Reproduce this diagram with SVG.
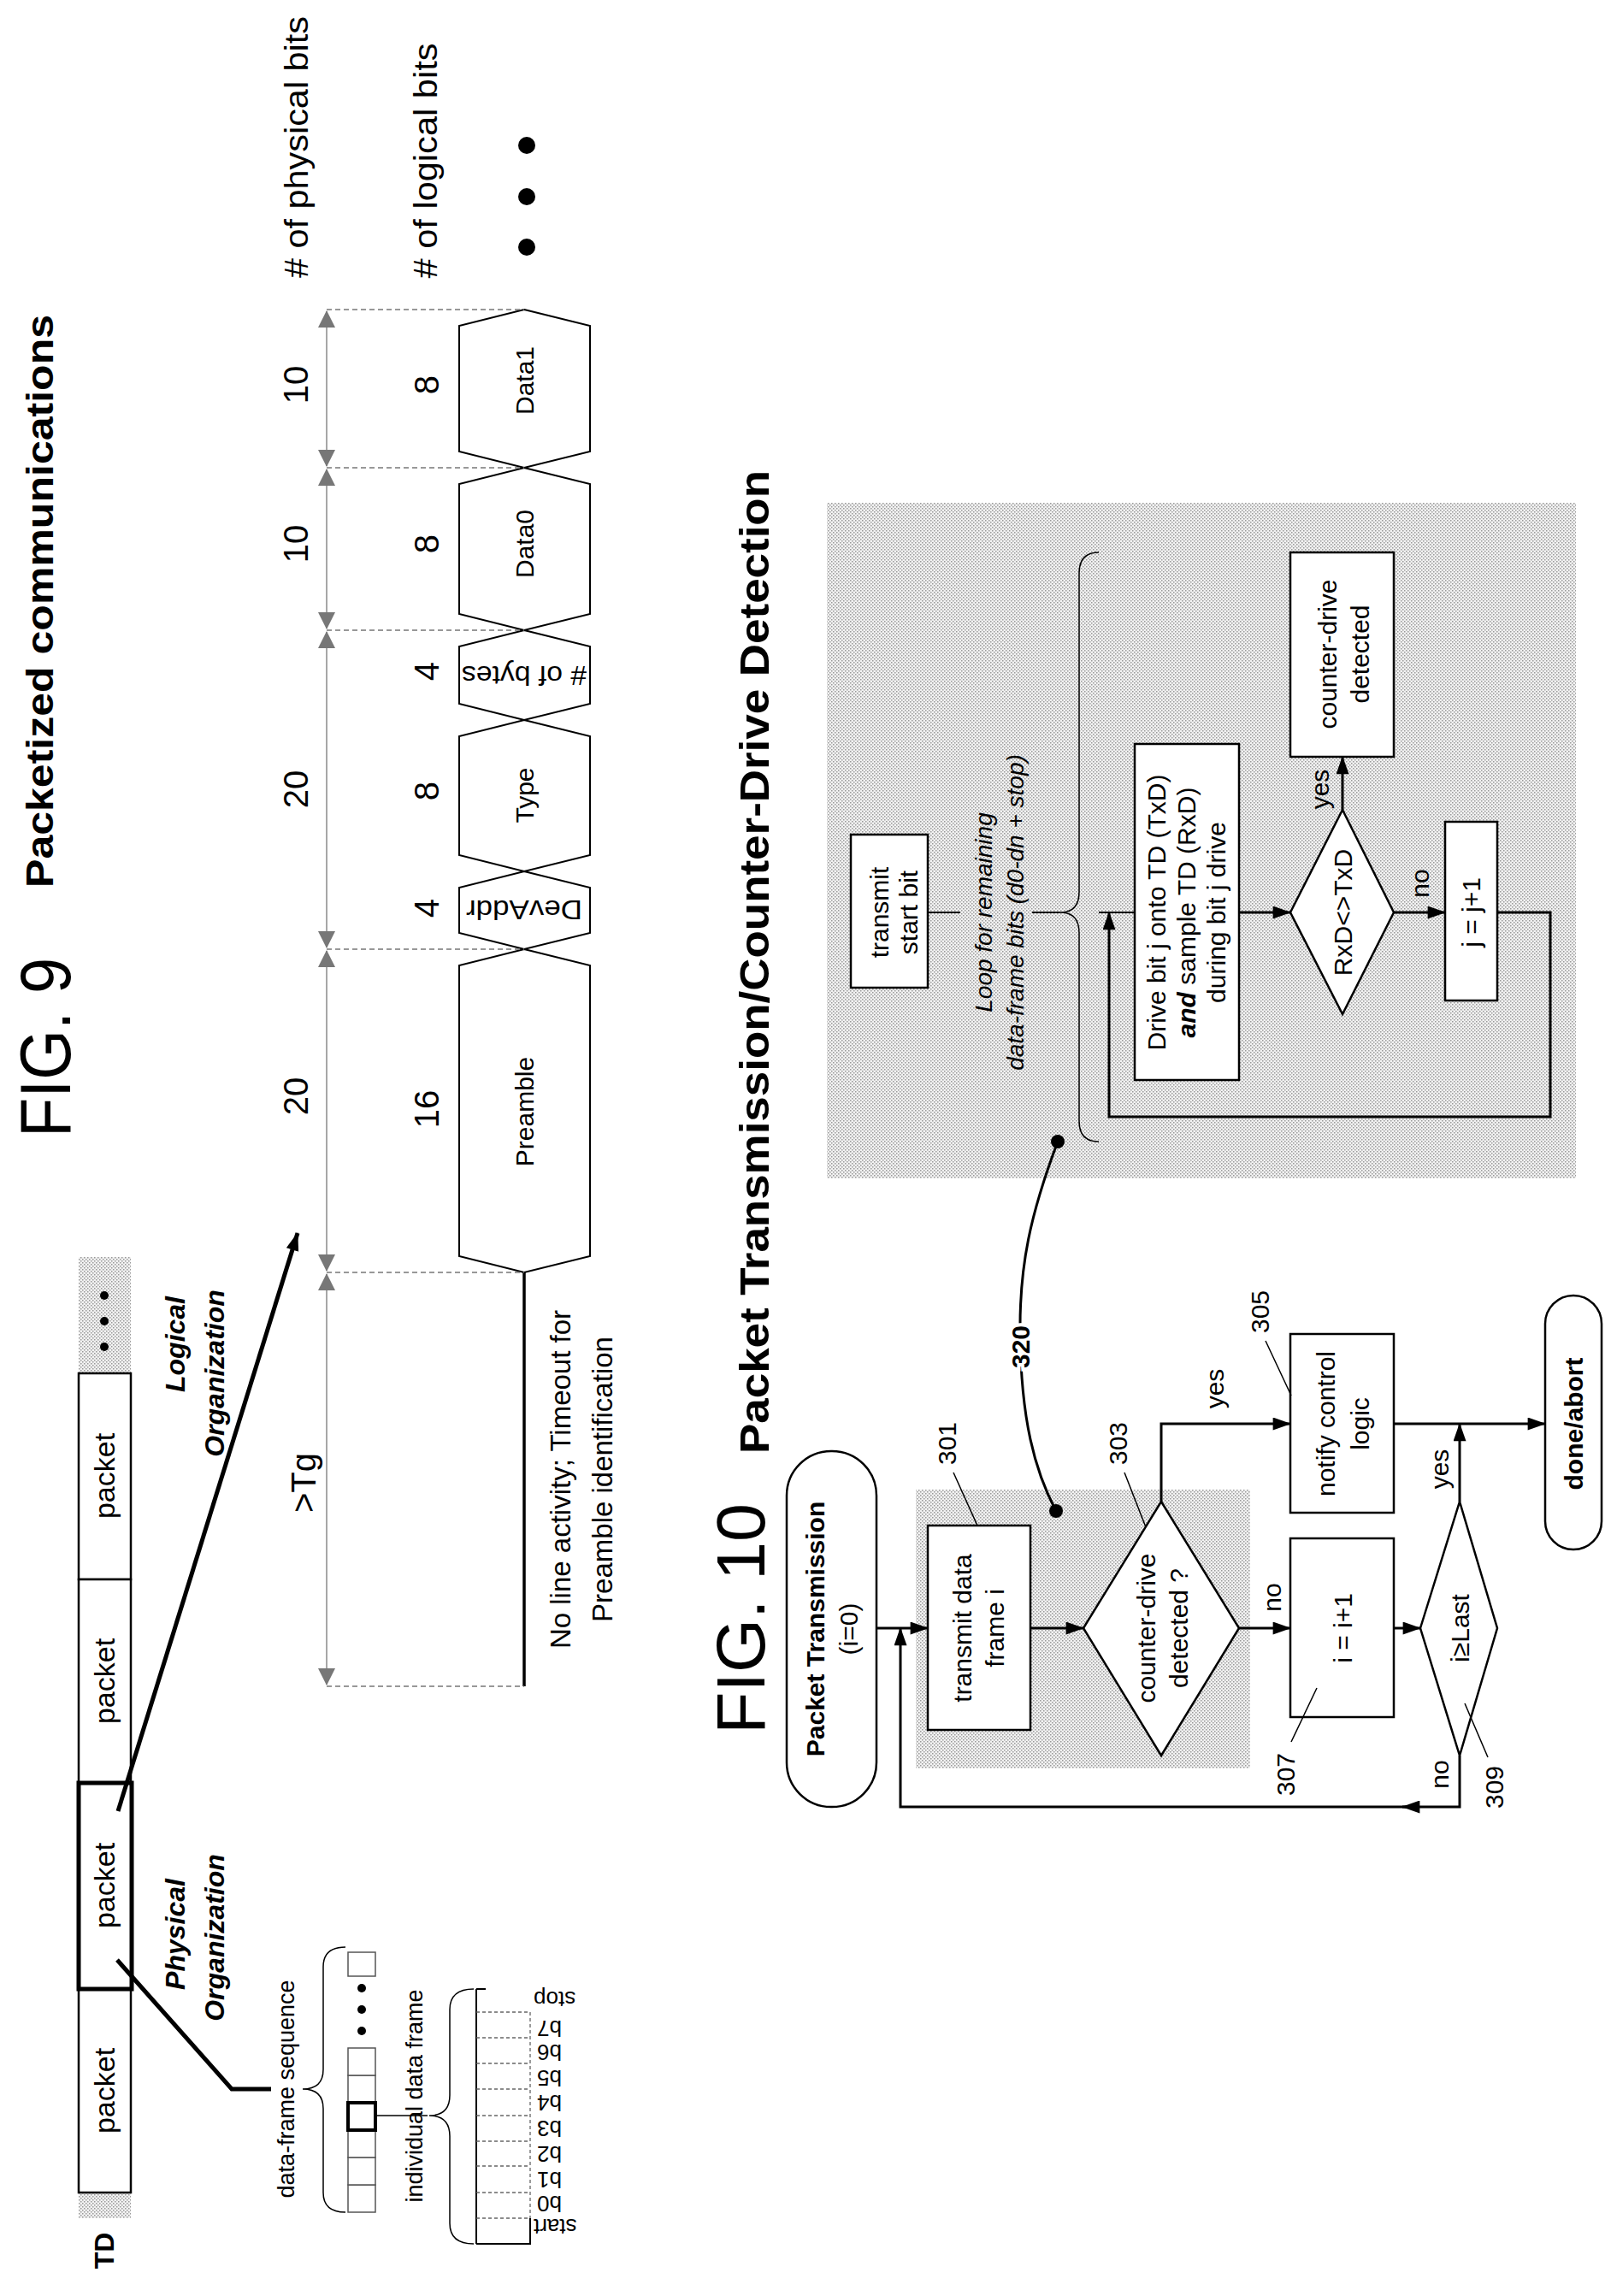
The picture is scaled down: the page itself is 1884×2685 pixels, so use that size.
<svg xmlns="http://www.w3.org/2000/svg" width="1884" height="2685" viewBox="0 0 1884 2685">
<defs>
<marker id="ah" viewBox="0 0 20 14" refX="19" refY="7" markerWidth="22" markerHeight="15" markerUnits="userSpaceOnUse" orient="auto-start-reverse"><path d="M0,0 L20,7 L0,14 Z" fill="#000"/></marker>
<marker id="dh" viewBox="0 0 20 20" refX="19" refY="10" markerWidth="22" markerHeight="20" markerUnits="userSpaceOnUse" orient="auto-start-reverse"><path d="M0,0 L20,10 L0,20 Z" fill="#777"/></marker>
<pattern id="dots" width="4" height="4" patternUnits="userSpaceOnUse"><rect width="4" height="4" fill="#f2f2f2"/><rect width="1.5" height="1.5" fill="#999"/><rect x="2" y="2" width="1.5" height="1.5" fill="#999"/></pattern>
</defs>
<style>
text{font-family:"Liberation Sans",Arial,sans-serif;fill:#000;}
.c{text-anchor:middle;dominant-baseline:central;}
.f{font-size:30px;}
.b{font-weight:bold;}
.bi{font-weight:bold;font-style:italic;font-size:32px;}
.ln{stroke:#000;stroke-width:3;fill:none;}
.th{stroke:#000;stroke-width:1.5;fill:none;}
.box{stroke:#000;stroke-width:2.5;fill:#fff;}
.dash{stroke:#666;stroke-width:1.3;stroke-dasharray:4 3;fill:none;}
.dim{stroke:#777;stroke-width:1.3;stroke-dasharray:6 4;fill:none;}
.hex{stroke:#000;stroke-width:2;fill:#fff;}
</style>
<rect width="1884" height="2685" fill="#fff"/>

<g id="fig9-title">
<text class="c" transform="translate(53,1225) rotate(-90)" font-size="84" textLength="210" lengthAdjust="spacingAndGlyphs">FIG. 9</text>
<text class="c b" transform="translate(46,703) rotate(-90)" font-size="44" textLength="670" lengthAdjust="spacingAndGlyphs">Packetized communications</text>
</g>

<g id="packet-bar">
<rect x="92" y="1470" width="61" height="136" fill="url(#dots)"/>
<circle cx="122" cy="1515" r="5"/><circle cx="122" cy="1545" r="5"/><circle cx="122" cy="1575" r="5"/>
<rect x="92" y="2564" width="61" height="30" fill="url(#dots)"/>
<rect class="box" x="92" y="1606" width="61" height="241" stroke-width="2"/>
<rect class="box" x="92" y="1847" width="61" height="238" stroke-width="2"/>
<rect class="box" x="92" y="2326" width="61" height="238" stroke-width="2"/>
<rect x="92" y="2085" width="62" height="241" fill="#fff" stroke="#000" stroke-width="5"/>
<text class="c" transform="translate(122,1726) rotate(-90)" font-size="34">packet</text>
<text class="c" transform="translate(122,1966) rotate(-90)" font-size="34">packet</text>
<text class="c" transform="translate(122,2205) rotate(-90)" font-size="34">packet</text>
<text class="c" transform="translate(122,2445) rotate(-90)" font-size="34">packet</text>
<text class="c b" transform="translate(122,2632) rotate(-90)" font-size="32">TD</text>
</g>

<g id="org-labels">
<text class="c bi" transform="translate(205,1572) rotate(-90)">Logical</text>
<text class="c bi" transform="translate(251,1606) rotate(-90)">Organization</text>
<text class="c bi" transform="translate(205,2262) rotate(-90)">Physical</text>
<text class="c bi" transform="translate(251,2266) rotate(-90)">Organization</text>
</g>

<g id="frame-seq">
<text class="c" transform="translate(335,2443) rotate(-90)" font-size="27">data-frame sequence</text>
<path class="th" stroke-width="4" d="M404,2277 Q378,2277 378,2300 V2420 Q378,2443 354,2443 Q378,2443 378,2466 V2564 Q378,2587 404,2587"/>
<g stroke="#555" stroke-width="1.5" fill="#fff">
<rect x="407" y="2555" width="32" height="32"/>
<rect x="407" y="2523" width="32" height="32"/>
<rect x="407" y="2491" width="32" height="32"/>
<rect x="407" y="2427" width="32" height="32"/>
<rect x="407" y="2395" width="32" height="32"/>
<rect x="407" y="2283" width="32" height="28"/>
</g>
<rect x="407" y="2459" width="32" height="32" fill="none" stroke="#000" stroke-width="4"/>
<circle cx="423" cy="2375" r="5"/><circle cx="423" cy="2350" r="5"/><circle cx="423" cy="2325" r="5"/>
<line class="th" x1="439" y1="2474" x2="500" y2="2474" stroke-width="1"/>
<text class="c" transform="translate(485,2451) rotate(-90)" font-size="27">individual data frame</text>
<path class="th" stroke-width="1" d="M554,2326 Q526,2326 526,2350 V2450 Q526,2474 502,2474 Q526,2474 526,2498 V2600 Q526,2624 554,2624"/>
</g>

<g id="data-frame">
<line x1="557" y1="2326" x2="557" y2="2624" stroke="#000" stroke-width="2"/>
<path class="dash" d="M557,2353 H620 V2594 M557,2383 H620 M557,2413 H620 M557,2443 H620 M557,2474 H620 M557,2504 H620 M557,2533 H620 M557,2564 H620 M557,2594 H620"/>
<path d="M557,2624 H620 V2594" stroke="#000" stroke-width="2" fill="none"/>
<line x1="557" y1="2326" x2="568" y2="2326" stroke="#000" stroke-width="2"/>
<g font-size="26" text-anchor="end" dominant-baseline="central">
<text transform="translate(624,2604) rotate(180)">start</text>
<text transform="translate(628,2577) rotate(180)">b0</text>
<text transform="translate(628,2549) rotate(180)">b1</text>
<text transform="translate(628,2519) rotate(180)">b2</text>
<text transform="translate(628,2489) rotate(180)">b3</text>
<text transform="translate(628,2459) rotate(180)">b4</text>
<text transform="translate(628,2430) rotate(180)">b5</text>
<text transform="translate(628,2400) rotate(180)">b6</text>
<text transform="translate(628,2372) rotate(180)">b7</text>
<text transform="translate(624,2338) rotate(180)">stop</text>
</g>
</g>

<g id="labels-row">
<text class="c" transform="translate(347,172) rotate(-90)" font-size="38" textLength="306" lengthAdjust="spacingAndGlyphs"># of physical bits</text>
<text class="c" transform="translate(498,188) rotate(-90)" font-size="38" textLength="275" lengthAdjust="spacingAndGlyphs"># of logical bits</text>
<circle cx="616" cy="170" r="10"/><circle cx="616" cy="230" r="10"/><circle cx="616" cy="289" r="10"/>
<g font-size="40">
<text class="c" transform="translate(346,450) rotate(-90)">10</text>
<text class="c" transform="translate(346,636) rotate(-90)">10</text>
<text class="c" transform="translate(346,923) rotate(-90)">20</text>
<text class="c" transform="translate(346,1282) rotate(-90)">20</text>
<text class="c" transform="translate(499,450) rotate(-90)">8</text>
<text class="c" transform="translate(499,636) rotate(-90)">8</text>
<text class="c" transform="translate(499,785) rotate(-90)">4</text>
<text class="c" transform="translate(499,925) rotate(-90)">8</text>
<text class="c" transform="translate(499,1062) rotate(-90)">4</text>
<text class="c" transform="translate(499,1297) rotate(-90)">16</text>
</g>
<text class="c" transform="translate(355,1734) rotate(-90)" font-size="40">&gt;Tg</text>
<text class="c" transform="translate(655,1730) rotate(-90)" font-size="33">No line activity; Timeout for</text>
<text class="c" transform="translate(704,1730) rotate(-90)" font-size="33">Preamble identification</text>
</g>

<g id="hexagons">
<polygon class="hex" points="613,362 690,381 690,528 613,547 537,528 537,381"/>
<polygon class="hex" points="613,547 690,566 690,718 613,737 537,718 537,566"/>
<polygon class="hex" points="613,737 690,756 690,823 613,842 537,823 537,756"/>
<polygon class="hex" points="613,842 690,861 690,1000 613,1019 537,1000 537,861"/>
<polygon class="hex" points="613,1019 690,1038 690,1091 613,1110 537,1091 537,1038"/>
<polygon class="hex" points="613,1110 690,1129 690,1469 613,1488 537,1469 537,1129"/>
<line x1="613" y1="1488" x2="613" y2="1972" stroke="#000" stroke-width="3.5"/>
<g font-size="30">
<text class="c" transform="translate(613,445) rotate(-90)">Data1</text>
<text class="c" transform="translate(613,636) rotate(-90)">Data0</text>
<text class="c" transform="translate(613,790) rotate(180)" font-size="32" textLength="146" lengthAdjust="spacingAndGlyphs"># of bytes</text>
<text class="c" transform="translate(613,930) rotate(-90)">Type</text>
<text class="c" transform="translate(613,1064) rotate(180)" font-size="32" textLength="136" lengthAdjust="spacingAndGlyphs">DevAddr</text>
<text class="c" transform="translate(613,1300) rotate(-90)">Preamble</text>
</g>
</g>

<g id="fig9-connectors">
<path class="dim" d="M382,362 H613 M382,547 H613 M382,737 H613 M382,1110 H613 M382,1488 H613 M382,1972 H613"/>
<g stroke="#777" stroke-width="1.3" marker-start="url(#dh)" marker-end="url(#dh)">
<line x1="382" y1="364" x2="382" y2="545"/>
<line x1="382" y1="549" x2="382" y2="735"/>
<line x1="382" y1="739" x2="382" y2="1108"/>
<line x1="382" y1="1112" x2="382" y2="1486"/>
<line x1="382" y1="1490" x2="382" y2="1970"/>
</g>
<line x1="138" y1="2118" x2="348" y2="1442" stroke="#000" stroke-width="5" marker-end="url(#ah)"/>
<polyline points="137,2292 271,2443 317,2443" fill="none" stroke="#000" stroke-width="5"/>
</g>

<g id="fig10-title">
<text class="c" transform="translate(866,1893) rotate(-90)" font-size="80" textLength="270" lengthAdjust="spacingAndGlyphs">FIG. 10</text>
<text class="c b" transform="translate(882,1125) rotate(-90)" font-size="48" textLength="1150" lengthAdjust="spacingAndGlyphs">Packet Transmission/Counter-Drive Detection</text>
</g>

<g id="loop-area">
<rect x="967" y="588" width="876" height="790" fill="url(#dots)"/>
</g>
<g id="start-bit">
<rect class="box" x="995" y="976" width="90" height="179"/>
<text class="c f" transform="translate(1028,1067) rotate(-90)">transmit</text>
<text class="c f" transform="translate(1062,1067) rotate(-90)">start bit</text>
</g>
<g id="loop-text">
<text class="c" transform="translate(1150,1067) rotate(-90)" font-size="28" font-style="italic">Loop for remaining</text>
<text class="c" transform="translate(1187,1067) rotate(-90)" font-size="28" font-style="italic">data-frame bits (d0-dn + stop)</text>
<path class="th" d="M1285,646 Q1262,646 1262,670 V1043 Q1262,1067 1240,1067 Q1262,1067 1262,1091 V1311 Q1262,1335 1285,1335"/>
</g>
<g id="drive">
<rect class="box" x="1327" y="870" width="122" height="393"/>
<text class="c f" transform="translate(1352,1067) rotate(-90)">Drive bit j  onto TD (TxD)</text>
<text class="c f" transform="translate(1387,1067) rotate(-90)"><tspan font-weight="bold" font-style="italic">and</tspan> sample TD (RxD)</text>
<text class="c f" transform="translate(1422,1067) rotate(-90)">during bit j drive</text>
</g>
<g id="rxd">
<polygon class="box" points="1509,1067 1570,947 1630,1067 1570,1186"/>
<text class="c f" transform="translate(1570,1067) rotate(-90)">RxD&lt;&gt;TxD</text>
</g>
<g id="cd-detected">
<rect class="box" x="1509" y="646" width="121" height="239"/>
<text class="c f" transform="translate(1552,765) rotate(-90)">counter-drive</text>
<text class="c f" transform="translate(1590,765) rotate(-90)">detected</text>
</g>
<g id="jinc">
<rect class="box" x="1690" y="961" width="61" height="209"/>
<text class="c f" transform="translate(1720,1067) rotate(-90)">j = j+1</text>
</g>

<g id="t-start">
<rect class="box" x="920" y="1697" width="105" height="416" rx="52"/>
<text class="c b" transform="translate(953,1905) rotate(-90)" font-size="30">Packet Transmission</text>
<text class="c f" transform="translate(992,1905) rotate(-90)">(i=0)</text>
</g>
<g id="inner-area"><rect x="1071" y="1742" width="391" height="326" fill="url(#dots)"/></g>
<g id="n301">
<rect class="box" x="1085" y="1784" width="120" height="239"/>
<text class="c f" transform="translate(1125,1904) rotate(-90)">transmit data</text>
<text class="c f" transform="translate(1163,1904) rotate(-90)">frame i</text>
</g>
<g id="n303">
<polygon class="box" points="1267,1904 1358,1756 1449,1904 1358,2053"/>
<text class="c f" transform="translate(1340,1904) rotate(-90)">counter-drive</text>
<text class="c f" transform="translate(1378,1904) rotate(-90)">detected ?</text>
</g>
<g id="n305">
<rect class="box" x="1509" y="1560" width="121" height="209"/>
<text class="c f" transform="translate(1550,1665) rotate(-90)">notify control</text>
<text class="c f" transform="translate(1590,1665) rotate(-90)">logic</text>
</g>
<g id="n307">
<rect class="box" x="1509" y="1799" width="121" height="209"/>
<text class="c f" transform="translate(1570,1904) rotate(-90)">i = i+1</text>
</g>
<g id="n309">
<polygon class="box" points="1661,1904 1707,1756 1751,1904 1707,2053"/>
<text class="c f" transform="translate(1707,1904) rotate(-90)">i≥Last</text>
</g>
<g id="done">
<rect class="box" x="1807" y="1515" width="66" height="297" rx="33"/>
<text class="c b" transform="translate(1840,1665) rotate(-90)" font-size="30">done/abort</text>
</g>

<g id="ref-labels" font-size="30">
<text class="c" transform="translate(1107,1688) rotate(-90)">301</text>
<text class="c" transform="translate(1307,1688) rotate(-90)">303</text>
<text class="c" transform="translate(1473,1534) rotate(-90)">305</text>
<text class="c" transform="translate(1503,2075) rotate(-90)">307</text>
<text class="c" transform="translate(1747,2090) rotate(-90)">309</text>
<path class="th" stroke-width="1" d="M1115,1722 L1143,1784 M1315,1722 L1340,1786 M1480,1568 L1510,1632 M1510,2037 L1540,1974 M1740,2055 L1713,1992"/>
<text class="c" transform="translate(1420,1624) rotate(-90)">yes</text>
<text class="c" transform="translate(1487,1868) rotate(-90)">no</text>
<text class="c" transform="translate(1683,1718) rotate(-90)">yes</text>
<text class="c" transform="translate(1683,2075) rotate(-90)">no</text>
<text class="c" transform="translate(1543,923) rotate(-90)">yes</text>
<text class="c" transform="translate(1660,1033) rotate(-90)">no</text>
</g>

<g id="connectors">
<g class="ln" stroke-width="3">
<line x1="1085" y1="1067" x2="1123" y2="1067" stroke-width="2"/>
<line x1="1207" y1="1067" x2="1240" y2="1067" stroke-width="2"/>
<line x1="1285" y1="1067" x2="1327" y2="1067" stroke-width="2"/>
<line x1="1449" y1="1067" x2="1509" y2="1067" marker-end="url(#ah)"/>
<line x1="1570" y1="947" x2="1570" y2="885" marker-end="url(#ah)"/>
<line x1="1630" y1="1067" x2="1690" y2="1067" marker-end="url(#ah)"/>
<path d="M1751,1067 H1813 V1306 H1297 V1067" marker-end="url(#ah)"/>
<line x1="1025" y1="1904" x2="1085" y2="1904" marker-end="url(#ah)"/>
<line x1="1205" y1="1904" x2="1267" y2="1904" marker-end="url(#ah)"/>
<line x1="1449" y1="1904" x2="1509" y2="1904" marker-end="url(#ah)"/>
<line x1="1630" y1="1904" x2="1661" y2="1904" marker-end="url(#ah)"/>
<path d="M1358,1756 V1665 H1509" marker-end="url(#ah)"/>
<line x1="1630" y1="1665" x2="1807" y2="1665" marker-end="url(#ah)"/>
<line x1="1707" y1="1756" x2="1707" y2="1665" marker-end="url(#ah)"/>
<path d="M1707,2053 V2113 H1640" marker-end="url(#ah)"/>
<path d="M1645,2113 H1053 V1904" marker-end="url(#ah)"/>
</g>
<path d="M1237,1335 C1205,1420 1192,1480 1193,1560 C1194,1660 1210,1720 1235,1767" fill="none" stroke="#000" stroke-width="3"/>
<circle cx="1237" cy="1335" r="8"/><circle cx="1235" cy="1767" r="8"/>
<text class="c b" transform="translate(1193,1575) rotate(-90)" font-size="30" stroke="#fff" stroke-width="8" paint-order="stroke">320</text>
</g>
</svg>
